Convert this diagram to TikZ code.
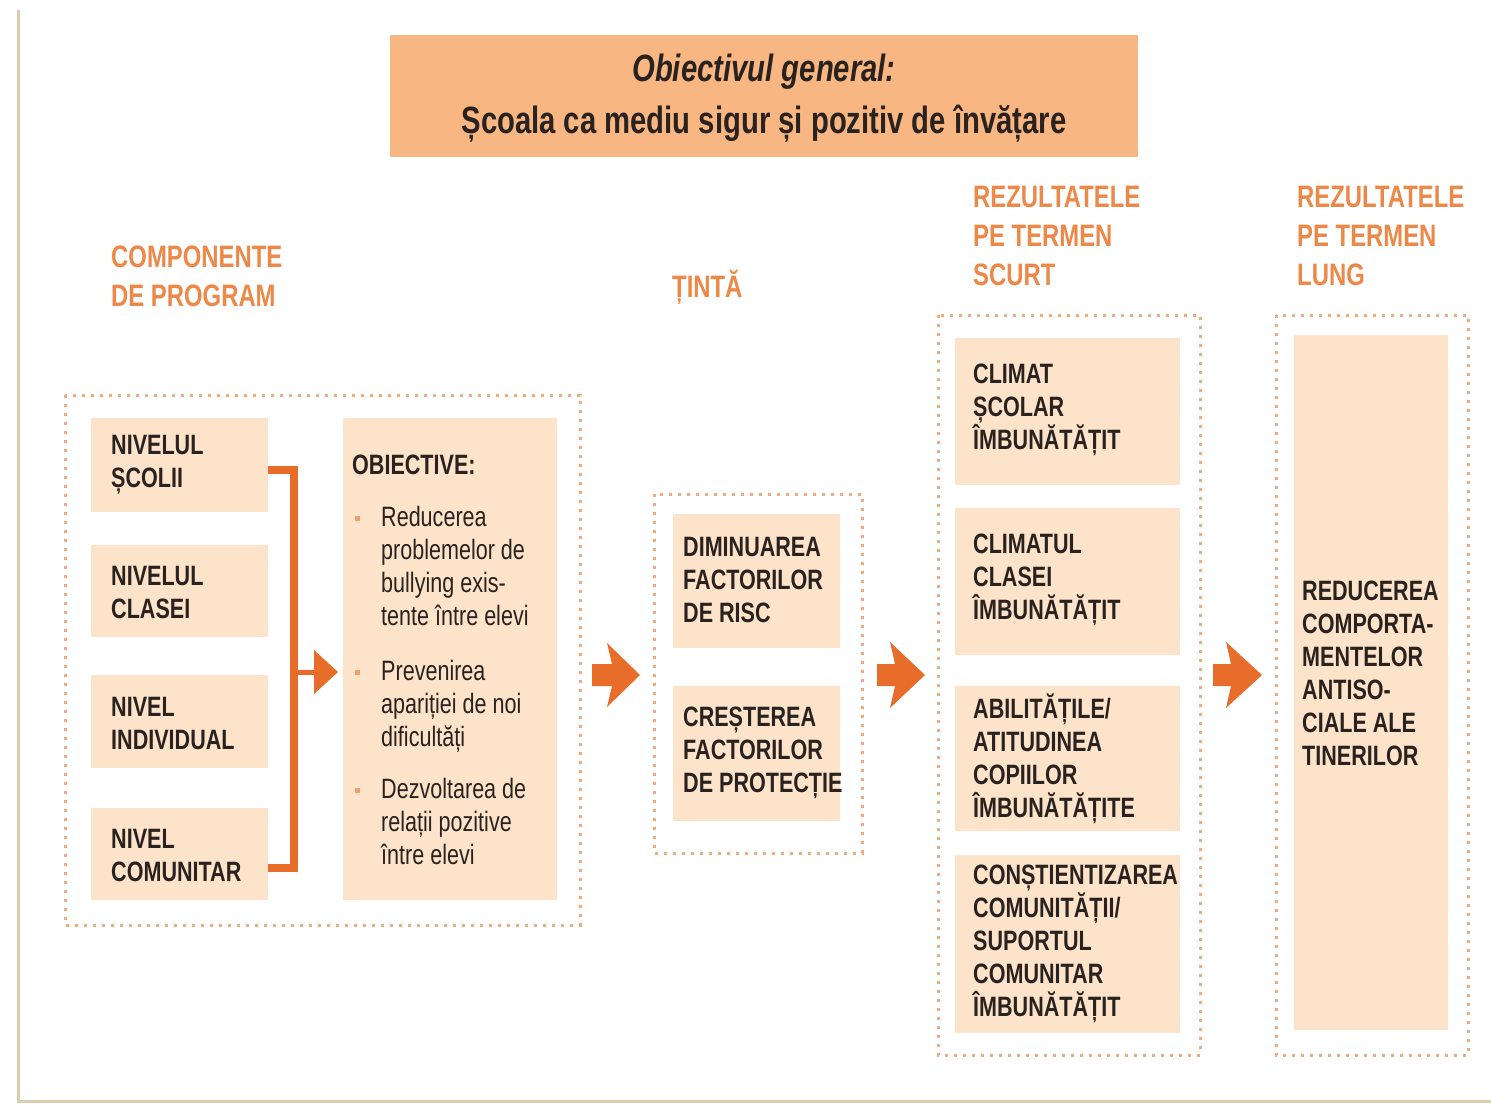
\documentclass[tikz,border=0pt]{standalone}
\usepackage{fontspec}
\setmainfont[FakeStretch=0.77]{Liberation Sans}
\definecolor{titc}{RGB}{248,182,130}
\definecolor{boxc}{RGB}{252,227,202}
\definecolor{hdrc}{RGB}{236,136,72}
\definecolor{arrc}{RGB}{232,108,42}
\definecolor{dotc}{RGB}{234,172,128}
\definecolor{txtc}{RGB}{42,34,30}
\definecolor{bulc}{RGB}{240,160,105}
\definecolor{frmc}{RGB}{218,204,172}
\newcommand\bul{\makebox[29pt][l]{\hspace{3pt}\textcolor{bulc}{\rule[6pt]{5pt}{5pt}}}}
\newcommand\ind{\hspace*{29pt}}
\begin{document}
\begin{tikzpicture}[x=1pt,y=-1pt,
  boxs/.style={fill=boxc, draw=none, inner sep=0pt},
  btxt/.style={anchor=west, inner sep=0pt, align=left, text=txtc, font=\fontsize{28pt}{33pt}\selectfont\bfseries},
  otxt/.style={anchor=west, inner sep=0pt, align=left, text=txtc, font=\fontsize{28pt}{33pt}\selectfont},
  hdr/.style={anchor=west, inner sep=0pt, align=left, text=hdrc, font=\fontsize{31pt}{39pt}\selectfont\bfseries},
  dotbox/.style={draw=dotc, line width=3pt, dash pattern=on 3pt off 6pt},
  brk/.style={draw=arrc, line width=8pt},
  arrf/.style={fill=arrc, draw=none}]
\useasboundingbox (0,0) rectangle (1491,1104);
\fill[white] (0,0) rectangle (1491,1104);
% frame lines
\draw[frmc, line width=3pt] (18,10) -- (18,1101) -- (1491,1101);
% title
\node[fill=titc, minimum width=748pt, minimum height=122pt, inner sep=0pt] (title) at (764,96) {};
\node[inner sep=0pt, align=center, text=txtc, font=\fontsize{38pt}{52pt}\selectfont\bfseries] (titlet) at (764,98)
  {{\itshape Obiectivul general:}\\Școala ca mediu sigur și pozitiv de învățare};
% headers
\node[hdr] (h1) at (111,276) {COMPONENTE\\DE PROGRAM};
\node[hdr] (h2) at (672,287) {ȚINTĂ};
\node[hdr] (h3) at (973,236) {REZULTATELE\\PE TERMEN\\SCURT};
\node[hdr] (h4) at (1297,236) {REZULTATELE\\PE TERMEN\\LUNG};
% dotted frames
\draw[dotbox] (65,395) rectangle (580,925);
\draw[dotbox] (654,494) rectangle (862,853);
\draw[dotbox] (938,315) rectangle (1200,1055);
\draw[dotbox] (1276,315) rectangle (1468,1055);
% left boxes
\node[boxs, minimum width=177pt, minimum height=94pt] (s1) at (179.5,465) {};
\node[btxt] (s1t) at (111,465) {NIVELUL\\ȘCOLII};
\node[boxs, minimum width=177pt, minimum height=92pt] (s2) at (179.5,591) {};
\node[btxt] (s2t) at (111,592) {NIVELUL\\CLASEI};
\node[boxs, minimum width=177pt, minimum height=93pt] (s3) at (179.5,721.5) {};
\node[btxt] (s3t) at (111,723) {NIVEL\\INDIVIDUAL};
\node[boxs, minimum width=177pt, minimum height=92pt] (s4) at (179.5,854) {};
\node[btxt] (s4t) at (111,855) {NIVEL\\COMUNITAR};
% objectives
\node[boxs, minimum width=214pt, minimum height=482pt] (ob) at (450,659) {};
\node[otxt] (obt) at (352,660) {\textbf{OBIECTIVE:}\\[19pt]
  \bul Reducerea\\ \ind problemelor de\\ \ind bullying exis-\\ \ind tente între elevi\\[22pt]
  \bul Prevenirea\\ \ind apariției de noi\\ \ind dificultăți\\[19pt]
  \bul Dezvoltarea de\\ \ind relații pozitive\\ \ind între elevi};
% bracket and small arrow
\draw[brk] (s1.east |- 0,470) -| (294,868) -- (s4.east |- 0,868);
\draw[arrc, line width=5pt] (294,672) -- (317,672);
\fill[arrf] (314,650) -- (338,672) -- (314,694) -- cycle;
% target boxes
\node[boxs, minimum width=167pt, minimum height=134pt] (d1) at (756.5,581) {};
\node[btxt] (d1t) at (683,580) {DIMINUAREA\\FACTORILOR\\DE RISC};
\node[boxs, minimum width=167pt, minimum height=135pt] (d2) at (756.5,753.5) {};
\node[btxt] (d2t) at (683,753) {CREȘTEREA\\FACTORILOR\\DE PROTECȚIE};
% short term boxes
\node[boxs, minimum width=225pt, minimum height=147pt] (r1) at (1067.5,411.5) {};
\node[btxt] (r1t) at (973,410) {CLIMAT\\ȘCOLAR\\ÎMBUNĂTĂȚIT};
\node[boxs, minimum width=225pt, minimum height=147pt] (r2) at (1067.5,581.5) {};
\node[btxt] (r2t) at (973,580) {CLIMATUL\\CLASEI\\ÎMBUNĂTĂȚIT};
\node[boxs, minimum width=225pt, minimum height=145pt] (r3) at (1067.5,758.5) {};
\node[btxt] (r3t) at (973,759) {ABILITĂȚILE/\\ATITUDINEA\\COPIILOR\\ÎMBUNĂTĂȚITE};
\node[boxs, minimum width=225pt, minimum height=178pt] (r4) at (1067.5,944) {};
\node[btxt] (r4t) at (973,944) {CONȘTIENTIZAREA\\COMUNITĂȚII/\\SUPORTUL\\COMUNITAR\\ÎMBUNĂTĂȚIT};
% long term box
\node[boxs, minimum width=154pt, minimum height=695pt] (L) at (1371,682.5) {};
\node[btxt] (Lt) at (1302,673) {REDUCEREA\\COMPORTA-\\MENTELOR\\ANTISO-\\CIALE ALE\\TINERILOR};
% big arrows
\begin{scope}[shift={(592,675)}]
\fill[arrf] (0,-11) -- (20,-11) -- (15,-32) -- (48,0) -- (15,32) -- (20,11) -- (0,11) -- cycle;
\end{scope}
\begin{scope}[shift={(877,675)}]
\fill[arrf] (0,-11) -- (18,-11) -- (13,-33) -- (48,0) -- (13,33) -- (18,11) -- (0,11) -- cycle;
\end{scope}
\begin{scope}[shift={(1213,675)}]
\fill[arrf] (0,-11) -- (18,-11) -- (13,-33) -- (49,0) -- (13,33) -- (18,11) -- (0,11) -- cycle;
\end{scope}
\end{tikzpicture}
\end{document}
